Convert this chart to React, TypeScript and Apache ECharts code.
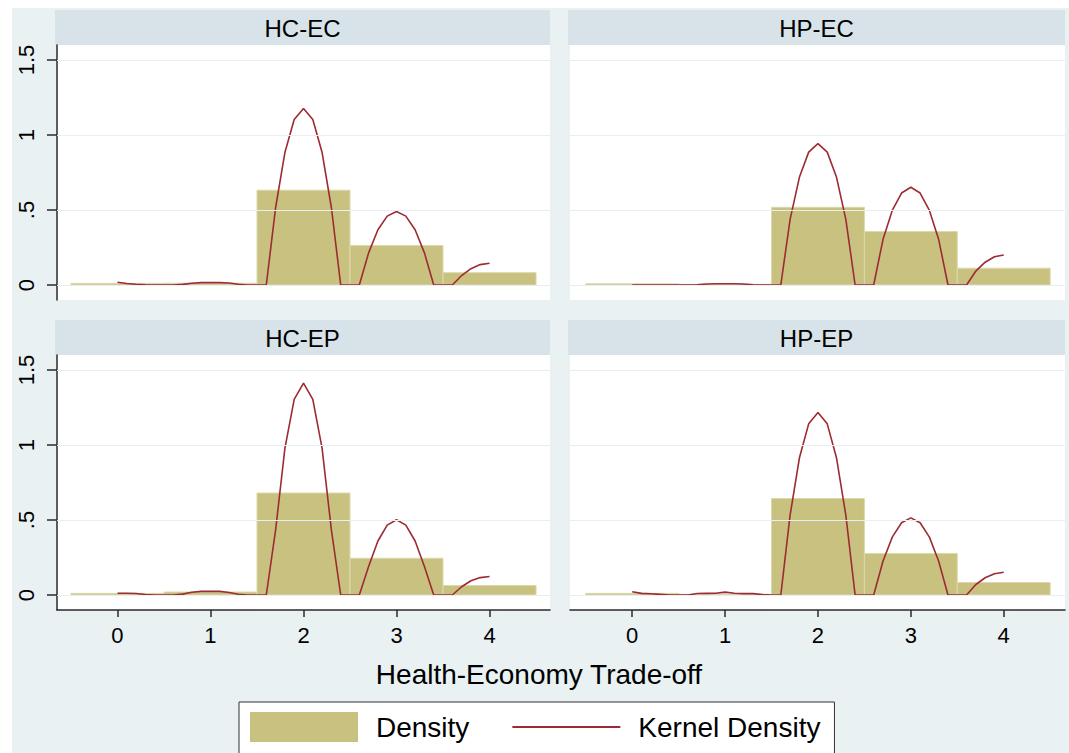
import React, { useEffect, useRef } from "react";
import * as echarts from "echarts";

// ---------- data ----------
const panelTitles = ["HC-EC", "HP-EC", "HC-EP", "HP-EP"];
const xAxisTitle = "Health-Economy Trade-off";
const legendNames = ["Density", "Kernel Density"];

const binCenters = [0, 1, 2, 3, 4];
const binWidth = 1;
const densityHCEC = [0.011, 0.012, 0.632, 0.263, 0.082];
const densityHPEC = [0.008, 0.005, 0.518, 0.357, 0.112];
const densityHCEP = [0.011, 0.02, 0.68, 0.245, 0.063];
const densityHPEP = [0.011, 0.005, 0.643, 0.277, 0.083];

const kernelX = [
  0, 0.1, 0.2, 0.3, 0.4, 0.5, 0.6, 0.7, 0.8, 0.9,
  1.0, 1.1, 1.2, 1.3, 1.4, 1.5, 1.6, 1.7, 1.8, 1.9,
  2.0, 2.1, 2.2, 2.3, 2.4, 2.5, 2.6, 2.7, 2.8, 2.9,
  3.0, 3.1, 3.2, 3.3, 3.4, 3.5, 3.6, 3.7, 3.8, 3.9, 4.0,
];
const kernelHCEC = [
  0.018, 0.010, 0.005, 0.001, 0, 0, 0, 0.004, 0.012, 0.016,
  0.017, 0.016, 0.013, 0.005, 0, 0, 0, 0.515, 0.883, 1.103,
  1.177, 1.103, 0.883, 0.515, 0, 0, 0, 0.214, 0.368, 0.459,
  0.490, 0.459, 0.368, 0.214, 0, 0, 0, 0.063, 0.109, 0.136, 0.145,
];
const kernelHPEC = [
  0, 0, 0, 0, 0, 0, 0, 0.002, 0.007, 0.008,
  0.008, 0.008, 0.007, 0.002, 0, 0, 0, 0.438, 0.718, 0.886,
  0.942, 0.886, 0.718, 0.438, 0, 0, 0, 0.303, 0.497, 0.613,
  0.652, 0.613, 0.497, 0.303, 0, 0, 0, 0.093, 0.152, 0.188, 0.2,
];
const kernelHCEP = [
  0.012, 0.012, 0.010, 0.003, 0, 0, 0, 0.006, 0.018, 0.024,
  0.025, 0.024, 0.017, 0.005, 0, 0, 0, 0.432, 0.977, 1.304,
  1.413, 1.304, 0.977, 0.432, 0, 0, 0, 0.19, 0.36, 0.466,
  0.502, 0.466, 0.36, 0.19, 0, 0, 0, 0.055, 0.095, 0.116, 0.123,
];
const kernelHPEP = [
  0.022, 0.011, 0.008, 0.004, 0, 0, 0, 0.010, 0.011, 0.012,
  0.019, 0.012, 0.009, 0.009, 0.003, 0, 0, 0.532, 0.913, 1.141,
  1.217, 1.141, 0.913, 0.532, 0, 0, 0, 0.225, 0.386, 0.482,
  0.514, 0.482, 0.386, 0.225, 0, 0, 0, 0.07, 0.115, 0.142, 0.152,
];

const xTicks = [0, 1, 2, 3, 4];
const xTickLabels = ["0", "1", "2", "3", "4"];
const yTicks = [0, 0.5, 1, 1.5];
const yTickLabels = ["0", ".5", "1", "1.5"];

const densities = [densityHCEC, densityHPEC, densityHCEP, densityHPEP];
const kernels = [kernelHCEC, kernelHPEC, kernelHCEP, kernelHPEP];

// ---------- layout / style ----------
const FONT = "'Liberation Sans', Arial, Helvetica, sans-serif";
const BAR = "#c9c17f";
const BAR_EDGE = "#ddd8aa";
const LINE = "#9c2b33";
const OUTER = "#e9f1f3";
const STRIP = "#d7e3e8";
const GRIDLINE = "#e8eff2";
const AXIS = "#2a2a2a";

const gridBoxes = [
  { left: 57, top: 45, width: 493, height: 255 },
  { left: 570, top: 45, width: 495, height: 255 },
  { left: 57, top: 355, width: 493, height: 255 },
  { left: 570, top: 355, width: 495, height: 255 },
];
const xRanges = [
  [-0.65, 4.65],
  [-0.67, 4.66],
  [-0.65, 4.65],
  [-0.67, 4.66],
];
const yRange = [-0.1, 1.6];

export default function App() {
  const ref = useRef<HTMLDivElement>(null);

  useEffect(() => {
    if (!ref.current) return;
    const chart = echarts.init(ref.current, undefined, { renderer: "svg" });

    const grid = gridBoxes.map((g) => ({
      left: g.left,
      top: g.top,
      width: g.width,
      height: g.height,
      show: true,
      backgroundColor: "#ffffff",
      borderWidth: 0,
      containLabel: false,
    }));

    const xAxis = gridBoxes.map((g, i) => {
      const bottom = i >= 2;
      return {
        type: "value",
        gridIndex: i,
        min: xRanges[i][0],
        max: xRanges[i][1],
        show: bottom,
        axisLine: { show: bottom, onZero: false, lineStyle: { color: AXIS, width: 1.5 } },
        axisTick: {
          show: bottom,
          length: 7,
          customValues: xTicks,
          lineStyle: { color: AXIS, width: 1.5 },
        },
        axisLabel: {
          show: bottom,
          customValues: xTicks,
          formatter: (v: number) => {
            const k = xTicks.findIndex((t) => Math.abs(t - v) < 1e-6);
            return k >= 0 ? xTickLabels[k] : "";
          },
          margin: 14,
          fontSize: 22,
          color: "#000",
          fontFamily: FONT,
        },
        splitLine: { show: false },
      };
    });

    const yAxis = gridBoxes.map((g, i) => {
      const left = i % 2 === 0;
      return {
        type: "value",
        gridIndex: i,
        min: yRange[0],
        max: yRange[1],
        show: left,
        axisLine: { show: left, onZero: false, lineStyle: { color: AXIS, width: 1.5 } },
        axisTick: {
          show: left,
          length: 10,
          customValues: yTicks,
          lineStyle: { color: AXIS, width: 1.5 },
        },
        axisLabel: {
          show: left,
          customValues: yTicks,
          rotate: 90,
          formatter: (v: number) => {
            const k = yTicks.findIndex((t) => Math.abs(t - v) < 1e-6);
            return k >= 0 ? yTickLabels[k] : "";
          },
          margin: 20,
          fontSize: 22,
          color: "#000",
          fontFamily: FONT,
        },
        splitLine: { show: false },
      };
    });

    const series: any[] = [];
    gridBoxes.forEach((g, i) => {
      series.push({
        name: "gridlines",
        type: "line",
        xAxisIndex: i,
        yAxisIndex: i,
        data: [],
        z: 1,
        silent: true,
        markLine: {
          silent: true,
          symbol: ["none", "none"],
          label: { show: false },
          lineStyle: { color: GRIDLINE, width: 1.2, type: "solid" },
          data: yTicks.map((t) => ({ yAxis: t })),
          animation: false,
        },
      });
      series.push({
        name: legendNames[0],
        type: "custom",
        xAxisIndex: i,
        yAxisIndex: i,
        z: 2,
        itemStyle: { color: BAR },
        encode: { x: 0, y: 1 },
        data: binCenters.map((c, j) => [c, densities[i][j]]),
        renderItem: (params: any, api: any) => {
          const x = api.value(0);
          const y = api.value(1);
          const p0 = api.coord([x - binWidth / 2, 0]);
          const p1 = api.coord([x + binWidth / 2, y]);
          return {
            type: "rect",
            shape: {
              x: p0[0],
              y: p1[1],
              width: p1[0] - p0[0],
              height: p0[1] - p1[1],
            },
            style: { fill: BAR, stroke: BAR_EDGE, lineWidth: 1 },
          };
        },
      });
      series.push({
        name: legendNames[1],
        type: "line",
        xAxisIndex: i,
        yAxisIndex: i,
        z: 3,
        symbol: "none",
        showSymbol: false,
        clip: true,
        color: LINE,
        lineStyle: { color: LINE, width: 1.6 },
        data: kernelX.map((x, j) => [x, kernels[i][j]]),
      });
    });

    const graphics: any[] = [
      { type: "rect", shape: { x: 0, y: 0, width: 1069, height: 8 }, style: { fill: "#ffffff" }, silent: true },
      { type: "rect", shape: { x: 0, y: 0, width: 12, height: 753 }, style: { fill: "#ffffff" }, silent: true },
    ];
    gridBoxes.forEach((g, i) => {
      const sx = g.left - 2;
      const sw = g.width + 2;
      const sy = g.top - 35;
      graphics.push({
        type: "rect",
        shape: { x: sx, y: sy, width: sw, height: 35 },
        style: { fill: STRIP },
        silent: true,
      });
      graphics.push({
        type: "text",
        x: sx + sw / 2,
        y: sy + 18,
        style: {
          text: panelTitles[i],
          fill: "#000",
          fontSize: 24,
          fontFamily: FONT,
          align: "center",
          verticalAlign: "middle",
          textAlign: "center",
          textVerticalAlign: "middle",
        },
        silent: true,
      });
    });
    graphics.push({
      type: "text",
      x: 539,
      y: 674,
      style: {
        text: xAxisTitle,
        fill: "#000",
        fontSize: 28,
        fontFamily: FONT,
        align: "center",
        verticalAlign: "middle",
        textAlign: "center",
        textVerticalAlign: "middle",
      },
      silent: true,
    });

    chart.setOption({
      animation: false,
      backgroundColor: OUTER,
      grid,
      xAxis,
      yAxis,
      series,
      graphic: { elements: graphics },
      legend: {
        data: [
          { name: legendNames[0], icon: "rect" },
          {
            name: legendNames[1],
            itemStyle: { color: "rgba(0,0,0,0)", opacity: 0, borderWidth: 0 },
            lineStyle: { color: LINE, width: 2 },
          },
        ],
        left: 239,
        top: 702,
        orient: "horizontal",
        itemWidth: 108,
        itemHeight: 30,
        itemGap: 42,
        backgroundColor: "#ffffff",
        borderColor: "#333",
        borderWidth: 1,
        borderRadius: 0,
        padding: [10, 14, 30, 11],
        selectedMode: false,
        textStyle: {
          fontSize: 28,
          color: "#000",
          fontFamily: FONT,
          padding: [0, 0, 0, 13],
        },
      },
    });

    return () => chart.dispose();
  }, []);

  return (
    <div
      ref={ref}
      style={{ position: "fixed", left: 0, top: 0, width: 1069, height: 753 }}
    />
  );
}
